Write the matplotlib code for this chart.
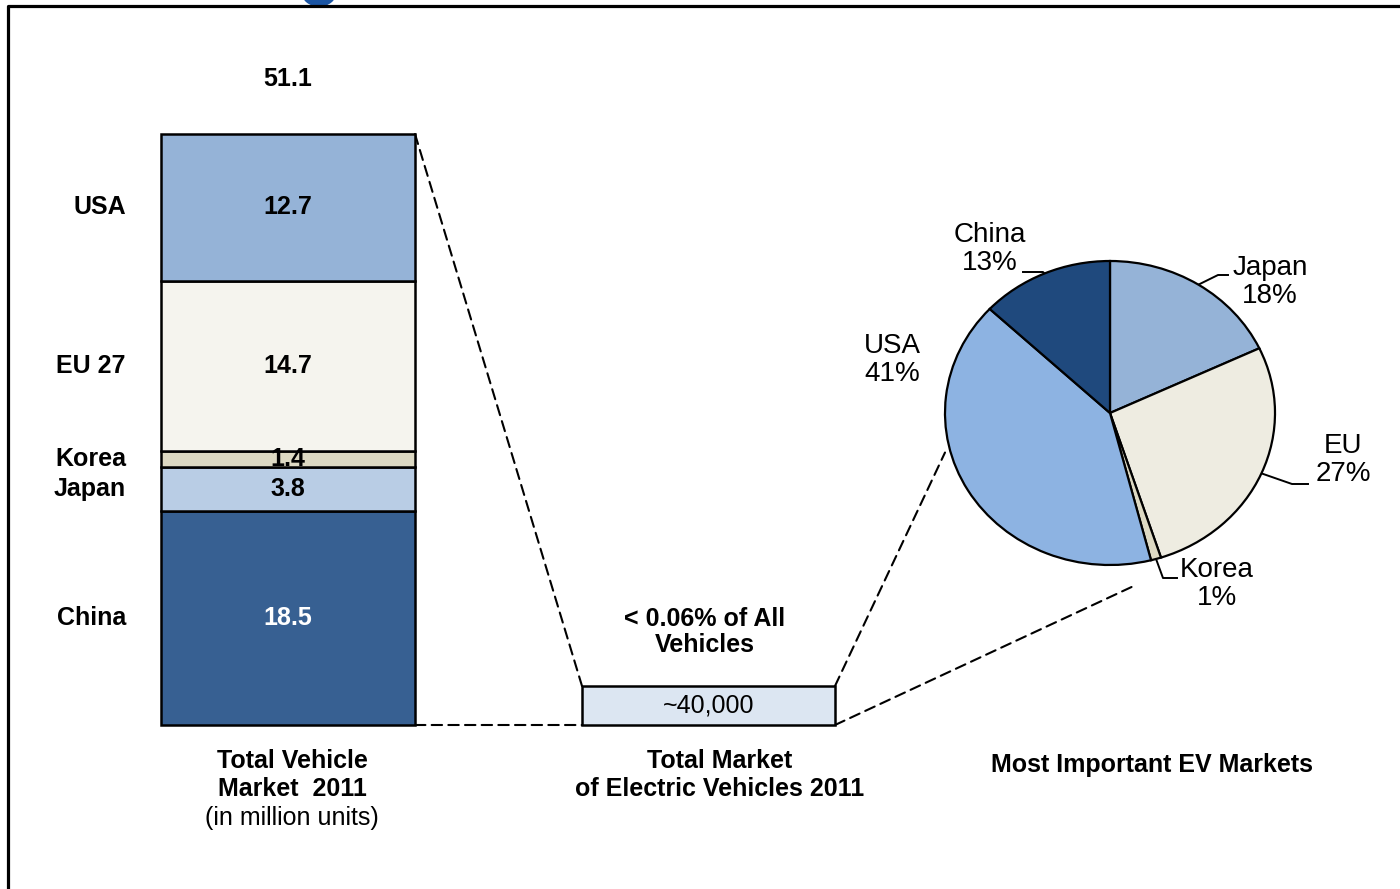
import matplotlib.pyplot as plt
import numpy as np
from matplotlib.patches import ConnectionPatch, Ellipse

plt.rcParams["font.family"] = ["Liberation Sans", "DejaVu Sans"]

# total vehicle market 2011, million units (stacked bottom -> top)
markets = ["China", "Japan", "Korea", "EU 27", "USA"]
market_units = [18.5, 3.8, 1.4, 14.7, 12.7]
market_total = 51.1
market_colors = ["#376092", "#B9CDE5", "#DDD9C3", "#F5F4EE", "#95B3D7"]
market_text = ["white", "black", "black", "black", "black"]

# electric vehicles 2011
ev_units = 40000
ev_label = "~40,000"
ev_share_note = "< 0.06% of All\nVehicles"

# EV market shares (clockwise from 12 o'clock)
ev_markets = ["Japan", "EU", "Korea", "USA", "China"]
ev_shares = [18, 27, 1, 41, 13]
ev_colors = ["#95B3D7", "#EEECE1", "#DDD9C3", "#8DB3E2", "#1F497D"]

W, H = 1400, 889
BOLD = 18
fig = plt.figure(figsize=(W / 100, H / 100), dpi=100)

# overlay in pixel coordinates for frame, titles and leader lines
ov = fig.add_axes([0, 0, 1, 1])
ov.set_xlim(0, W)
ov.set_ylim(H, 0)
ov.set_axis_off()


def px_axes(x0, y0, x1, y1):
    return fig.add_axes([x0 / W, (H - y1) / H, (x1 - x0) / W, (y1 - y0) / H])


# --- stacked bar of all vehicles ---
ax_bar = px_axes(161, 134, 415, 725)
ax_bar.set_xlim(-0.5, 0.5)
ax_bar.set_ylim(0, market_total)
ax_bar.set_axis_off()
bottoms = np.concatenate([[0], np.cumsum(market_units)[:-1]])
bars = ax_bar.bar(0, market_units, width=1, bottom=bottoms, color=market_colors,
                  edgecolor="black", linewidth=1.8)
for b in bars:
    b.set_clip_on(False)
for name, val, bot, tc in zip(markets, market_units, bottoms, market_text):
    mid = bot + val / 2
    ax_bar.text(0, mid, f"{val:.1f}", ha="center", va="center", fontsize=BOLD,
                fontweight="bold", color=tc)
    ax_bar.annotate(name, xy=(-0.5, mid), xytext=(-35, 0), textcoords="offset pixels",
                    ha="right", va="center", fontsize=BOLD, fontweight="bold")
ax_bar.annotate(f"{market_total:.1f}", xy=(0, market_total), xytext=(0, 55),
                textcoords="offset pixels", ha="center", va="center",
                fontsize=BOLD, fontweight="bold")

# --- EV box ---
ax_ev = px_axes(582, 686, 835, 725)
ax_ev.set_xlim(-0.5, 0.5)
ax_ev.set_ylim(0, ev_units)
ax_ev.set_axis_off()
evb = ax_ev.bar(0, ev_units, width=1, color="#DCE6F2", edgecolor="black", linewidth=1.8)
evb[0].set_clip_on(False)
ax_ev.text(0, ev_units / 2, ev_label, ha="center", va="center", fontsize=18)

# --- pie of EV markets (slightly wide, like the original) ---
pcx, pcy, prx, pry = 1110, 413, 165, 152
ax_pie = px_axes(pcx - prx, pcy - pry, pcx + prx, pcy + pry)
wedges, _ = ax_pie.pie(ev_shares, colors=ev_colors, startangle=90, counterclock=False,
                       radius=1, wedgeprops=dict(edgecolor="black", linewidth=1.6))
for w in wedges:
    w.set_clip_on(False)
ax_pie.set_aspect("auto")
ax_pie.set_xlim(-1, 1)
ax_pie.set_ylim(-1, 1)
ax_pie.set_axis_off()

to_px = ov.transData.inverted()
label_layout = {
    "Japan": ((1270, 282), [(1218, 275), (1228, 275)]),
    "EU": ((1343, 460), [(1292, 484), (1308, 484)]),
    "Korea": ((1217, 584), [(1163, 578), (1177, 578)]),
    "USA": ((892, 360), None),
    "China": ((990, 249), [(1043, 272), (1023, 272)]),
}
for w, name, share in zip(wedges, ev_markets, ev_shares):
    (tx, ty), path = label_layout[name]
    ov.text(tx, ty, f"{name}\n{share}%", ha="center", va="center", fontsize=20,
            linespacing=1.12)
    if path is None:
        continue
    ang = np.deg2rad((w.theta1 + w.theta2) / 2)
    ex, ey = to_px.transform(ax_pie.transData.transform((np.cos(ang), np.sin(ang))))
    xs = [ex] + [p[0] for p in path]
    ys = [ey] + [p[1] for p in path]
    ov.plot(xs, ys, color="black", lw=1.4)

# --- dashed zoom connectors ---
dash = (0, (5, 3))
links = [
    ((0.5, market_total), ax_bar, (-0.5, ev_units), ax_ev),
    ((0.5, 0), ax_bar, (-0.5, 0), ax_ev),
    ((0.5, ev_units), ax_ev, (-1.0, -0.26), ax_pie),
    ((0.5, 0), ax_ev, (0.14, -1.14), ax_pie),
]
for xa, axa, xb, axb in links:
    fig.add_artist(ConnectionPatch(xa, xb, coordsA=axa.transData, coordsB=axb.transData,
                                   linestyle=dash, lw=1.5, color="black", zorder=0))

# --- captions ---
ov.text(292, 775, "Total Vehicle\nMarket  2011", ha="center", va="center",
        fontsize=BOLD, fontweight="bold", linespacing=1.17)
ov.text(292, 818, "(in million units)", ha="center", va="center", fontsize=18)
ov.text(705, 632, ev_share_note, ha="center", va="center", fontsize=BOLD,
        fontweight="bold", linespacing=1.1)
ov.text(720, 775, "Total Market\nof Electric Vehicles 2011", ha="center", va="center",
        fontsize=BOLD, fontweight="bold", linespacing=1.17)
ov.text(1152, 765, "Most Important EV Markets", ha="center", va="center",
        fontsize=BOLD, fontweight="bold")

# frame and cut-off logo piece at the top
ov.plot([8, 8, W], [H, 5.5, 5.5], color="black", lw=2.3, solid_capstyle="butt")
ov.add_patch(Ellipse((319, -8), 34, 28, color="#1B55A3", clip_on=True))

fig.savefig("out.png", dpi=100)
